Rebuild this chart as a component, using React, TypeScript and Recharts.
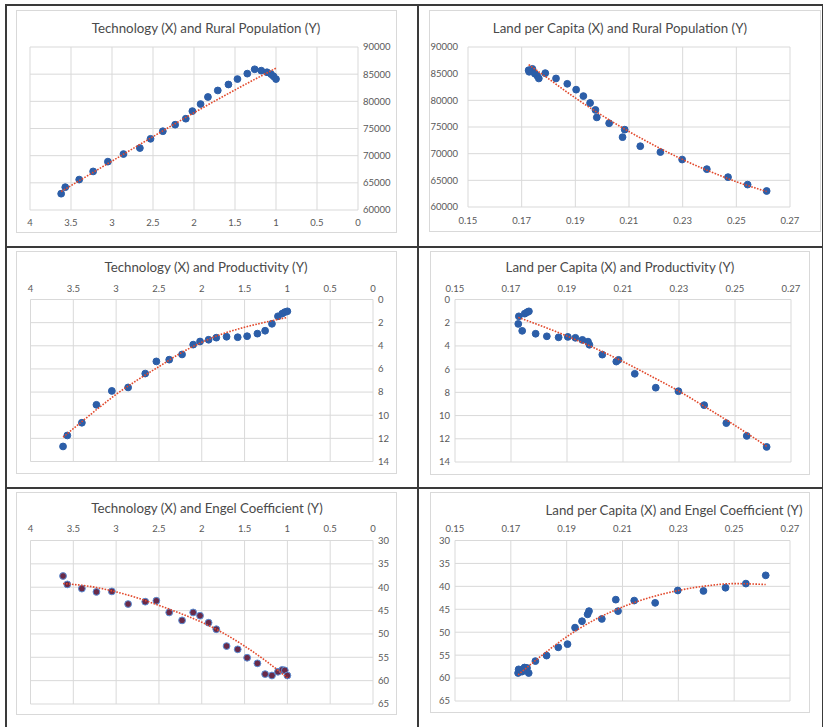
import React from 'react';
import { ScatterChart, Scatter, XAxis, YAxis, CartesianGrid } from 'recharts';

// one entry per year, same order in every array
const technology = [3.62, 3.57, 3.4, 3.23, 3.05, 2.86, 2.66, 2.53, 2.38, 2.23, 2.1, 2.02, 1.92, 1.83, 1.71, 1.58, 1.47, 1.35, 1.26, 1.18, 1.11, 1.06, 1.03, 1.0];
const landPerCapita = [0.2613, 0.2542, 0.2469, 0.239, 0.2298, 0.2217, 0.2142, 0.2076, 0.2084, 0.2026, 0.198, 0.1975, 0.1955, 0.193, 0.1903, 0.187, 0.1828, 0.1788, 0.174, 0.1726, 0.1728, 0.1749, 0.1758, 0.1764];
const ruralPopulation = [63000, 64200, 65600, 67100, 68900, 70300, 71400, 73100, 74500, 75700, 76800, 78200, 79500, 80800, 82000, 83100, 84100, 85100, 85900, 85650, 85350, 85000, 84600, 84100];
const productivity = [12.7, 11.75, 10.65, 9.1, 7.9, 7.6, 6.4, 5.35, 5.2, 4.75, 3.9, 3.63, 3.48, 3.3, 3.22, 3.26, 3.17, 2.95, 2.7, 2.1, 1.45, 1.22, 1.09, 1.02];
const engelCoefficient = [37.6, 39.4, 40.3, 41.0, 40.9, 43.6, 43.1, 42.9, 45.4, 47.1, 45.4, 46.1, 47.6, 49.0, 52.6, 53.3, 55.1, 56.3, 58.6, 58.9, 58.1, 57.7, 57.8, 58.9];

const technologyTicks = [0, 0.5, 1, 1.5, 2, 2.5, 3, 3.5, 4];
const landTicks = [0.15, 0.17, 0.19, 0.21, 0.23, 0.25, 0.27];
const ruralTicks = [60000, 65000, 70000, 75000, 80000, 85000, 90000];
const productivityTicks = [0, 2, 4, 6, 8, 10, 12, 14];
const engelTicks = [30, 35, 40, 45, 50, 55, 60, 65];

// dotted trend lines
const trendTechRuralX = [3.62, 3.0, 2.5, 2.0, 1.5, 1.0];
const trendTechRuralY = [63400, 69000, 73500, 77900, 82100, 86100];
const trendLandRuralX = [0.1726, 0.18, 0.19, 0.2, 0.21, 0.22, 0.23, 0.24, 0.25, 0.2613];
const trendLandRuralY = [86700, 84050, 80450, 77150, 74150, 71400, 68900, 66700, 64750, 62900];
const trendTechProdX = [3.62, 3.4, 3.2, 3.0, 2.75, 2.5, 2.25, 2.0, 1.75, 1.5, 1.25, 1.0];
const trendTechProdY = [11.9, 10.55, 9.35, 8.2, 6.95, 5.8, 4.65, 3.7, 2.95, 2.4, 1.95, 1.55];
const trendLandProdX = [0.1726, 0.18, 0.19, 0.2, 0.21, 0.22, 0.23, 0.24, 0.25, 0.2613];
const trendLandProdY = [1.55, 2.2, 3.15, 4.2, 5.35, 6.6, 7.9, 9.35, 10.85, 12.65];
const trendTechEngelX = [3.62, 3.25, 3.0, 2.75, 2.5, 2.25, 2.0, 1.75, 1.5, 1.25, 1.0];
const trendTechEngelY = [39.2, 40.0, 41.0, 42.3, 43.9, 45.6, 47.5, 49.8, 52.6, 55.8, 59.4];
const trendLandEngelX = [0.1726, 0.18, 0.19, 0.2, 0.21, 0.22, 0.23, 0.24, 0.25, 0.2613];
const trendLandEngelY = [59.3, 55.6, 51.0, 47.3, 44.5, 42.4, 40.9, 39.9, 39.4, 39.6];

const pairs = (xs: number[], ys: number[]) => xs.map((x, i) => ({ x, y: ys[i] }));

const FONT = 'Lato, "Open Sans", sans-serif';
const TEXT = '#595959';
const TITLE = '#4a4a4a';
const GRID = '#d9d9d9';
const BLUE = '#2c5ea8';
const TREND = '#e2492c';
const FRAME = '#3a3a3a';

type Rect = [number, number, number, number]; // left, top, right, bottom

type PanelProps = {
  title: string;
  titleX: number;
  titleY: number;
  box: Rect;
  plot: Rect;
  xTop?: boolean;
  yRight?: boolean;
  xReversed?: boolean;
  yReversed?: boolean;
  xTicks: number[];
  yTicks: number[];
  xGap: number;
  yGap: number;
  points: { x: number; y: number }[];
  trend: { x: number; y: number }[];
  dotFill?: string;
  dotStroke?: string;
};

const Panel = (p: PanelProps) => {
  const [bl, bt, br, bb] = p.box;
  const [pl, pt, pr, pb] = p.plot;
  const width = br - bl;
  const height = bb - bt;
  const yw = p.yRight ? br - pr : pl - bl;
  const xh = p.xTop ? pt - bt : bb - pb;
  const margin = {
    left: p.yRight ? pl - bl : 0,
    right: p.yRight ? 0 : br - pr,
    top: p.xTop ? 0 : pt - bt,
    bottom: p.xTop ? bb - pb : 0,
  };
  const tick = { fontSize: 9.5, fill: TEXT, fontFamily: FONT };
  const dotFill = p.dotFill || BLUE;
  const dotStroke = p.dotStroke || BLUE;

  return (
    <>
      <div style={{ position: 'absolute', left: bl, top: bt, width: width - 2, height: height - 2, border: `1px solid ${GRID}`, background: '#fff' }} />
      <div style={{ position: 'absolute', left: bl, top: bt }}>
        <ScatterChart width={width} height={height} margin={margin}>
          <CartesianGrid stroke={GRID} strokeWidth={1} />
          <XAxis
            type="number"
            dataKey="x"
            domain={[p.xTicks[0], p.xTicks[p.xTicks.length - 1]]}
            ticks={p.xTicks}
            interval={0}
            reversed={p.xReversed}
            orientation={p.xTop ? 'top' : 'bottom'}
            height={xh}
            axisLine={false}
            tickLine={false}
            tickSize={6}
            tickMargin={p.xGap}
            tick={tick}
            allowDataOverflow
          />
          <YAxis
            type="number"
            dataKey="y"
            domain={[p.yTicks[0], p.yTicks[p.yTicks.length - 1]]}
            ticks={p.yTicks}
            interval={0}
            reversed={p.yReversed}
            orientation={p.yRight ? 'right' : 'left'}
            width={yw}
            axisLine={false}
            tickLine={false}
            tickSize={2}
            tickMargin={p.yGap}
            tick={tick}
            allowDataOverflow
          />
          <Scatter
            data={p.points}
            isAnimationActive={false}
            shape={(s: any) => <circle cx={s.cx} cy={s.cy} r={3.4} fill={dotFill} stroke={dotStroke} strokeWidth={1} />}
          />
          <Scatter
            data={p.trend}
            isAnimationActive={false}
            line={{ stroke: TREND, strokeWidth: 1.6, strokeDasharray: '1.6 1.4' }}
            lineJointType="monotoneX"
            shape={() => <g />}
          />
        </ScatterChart>
      </div>
      <div
        style={{
          position: 'absolute',
          left: p.titleX,
          top: p.titleY,
          transform: 'translate(-50%, -50%)',
          whiteSpace: 'nowrap',
          fontFamily: FONT,
          fontSize: 13.3,
          color: TITLE,
        }}
      >
        {p.title}
      </div>
    </>
  );
};

const Line = ({ x, y, w, h }: { x: number; y: number; w: number; h: number }) => (
  <div style={{ position: 'absolute', left: x, top: y, width: w, height: h, background: FRAME }} />
);

export default function App() {
  return (
    <div style={{ position: 'absolute', left: 0, top: 0, width: 826, height: 727, background: '#fff', overflow: 'hidden' }}>
      <Panel
        title="Technology (X) and Rural Population (Y)"
        titleX={206}
        titleY={28}
        box={[16, 10, 397, 233]}
        plot={[30, 47, 358, 210]}
        yRight
        xReversed
        xTicks={technologyTicks}
        yTicks={ruralTicks}
        xGap={3}
        yGap={3}
        points={pairs(technology, ruralPopulation)}
        trend={pairs(trendTechRuralX, trendTechRuralY)}
      />
      <Panel
        title="Land per Capita (X) and Rural Population (Y)"
        titleX={620}
        titleY={28}
        box={[429, 10, 821, 232]}
        plot={[468, 47, 790, 207]}
        xTicks={landTicks}
        yTicks={ruralTicks}
        xGap={4}
        yGap={8}
        points={pairs(landPerCapita, ruralPopulation)}
        trend={pairs(trendLandRuralX, trendLandRuralY)}
      />
      <Panel
        title="Technology (X) and Productivity (Y)"
        titleX={206}
        titleY={267}
        box={[16, 251, 397, 474]}
        plot={[30.5, 299.5, 373, 461.5]}
        xTop
        yRight
        xReversed
        yReversed
        xTicks={technologyTicks}
        yTicks={productivityTicks}
        xGap={2}
        yGap={3}
        points={pairs(technology, productivity)}
        trend={pairs(trendTechProdX, trendTechProdY)}
      />
      <Panel
        title="Land per Capita (X) and Productivity (Y)"
        titleX={620}
        titleY={267}
        box={[430, 251, 810, 475]}
        plot={[455, 299.5, 791, 462]}
        xTop
        yReversed
        xTicks={landTicks}
        yTicks={productivityTicks}
        xGap={2}
        yGap={3}
        points={pairs(landPerCapita, productivity)}
        trend={pairs(trendLandProdX, trendLandProdY)}
      />
      <Panel
        title="Technology (X) and Engel Coefficient (Y)"
        titleX={207}
        titleY={508}
        box={[16, 492, 397, 715]}
        plot={[30.5, 540.5, 373, 704]}
        xTop
        yRight
        xReversed
        yReversed
        xTicks={technologyTicks}
        yTicks={engelTicks}
        xGap={3}
        yGap={3}
        points={pairs(technology, engelCoefficient)}
        trend={pairs(trendTechEngelX, trendTechEngelY)}
        dotFill="#6a2a48"
        dotStroke="#5b8fd6"
      />
      <Panel
        title="Land per Capita (X) and Engel Coefficient (Y)"
        titleX={674}
        titleY={510}
        box={[430, 492, 810, 713]}
        plot={[455, 540.5, 790, 701]}
        xTop
        yReversed
        xTicks={landTicks}
        yTicks={engelTicks}
        xGap={3}
        yGap={3}
        points={pairs(landPerCapita, engelCoefficient)}
        trend={pairs(trendLandEngelX, trendLandEngelY)}
      />
      <Line x={5} y={4} w={818} h={2} />
      <Line x={5} y={4} w={2} h={723} />
      <Line x={417} y={4} w={2} h={723} />
      <Line x={5} y={246} w={818} h={2} />
      <Line x={5} y={487} w={818} h={2} />
      <Line x={822} y={4} w={1} h={723} />
    </div>
  );
}
